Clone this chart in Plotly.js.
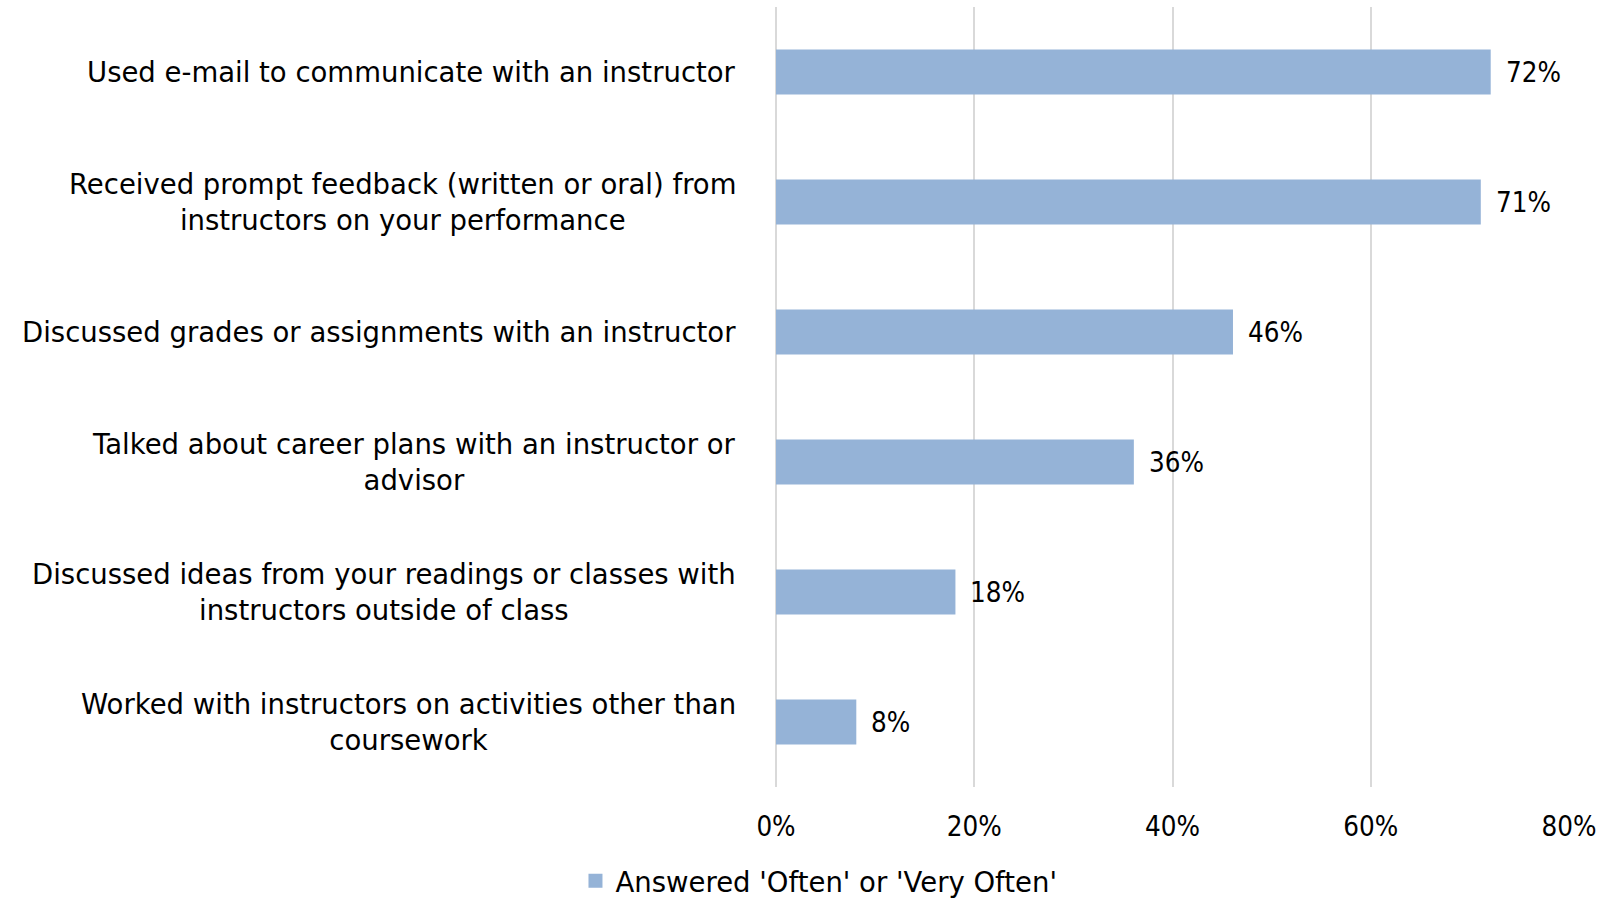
<!DOCTYPE html>
<html>
<head>
<meta charset="utf-8">
<script src="https://cdn.plot.ly/plotly-3.0.1.min.js"></script>
<style>
html,body{margin:0;padding:0;background:#fff;}
#chart{width:1612px;height:898px;}
</style>
</head>
<body>
<div id="chart"></div>
<script>
const categories = [
  "Used e-mail to communicate with an instructor",
  "Received prompt feedback (written or oral) from<br>instructors on your performance",
  "Discussed grades or assignments with an instructor",
  "Talked about career plans with an instructor or<br>advisor",
  "Discussed ideas from your readings or classes with<br>instructors outside of class",
  "Worked with instructors on activities other than<br>coursework"
];
const values = [0.72, 0.71, 0.46, 0.36, 0.18, 0.08];
const valueLabels = ["72%", "71%", "46%", "36%", "18%", "8%"];
const seriesName = "Answered 'Often' or 'Very Often'";
const xTicks = [0, 0.2, 0.4, 0.6, 0.8];
const xTickLabels = ["0%", "20%", "40%", "60%", "80%"];

const NUMFONT = "'DejaVu Sans Condensed', 'Liberation Sans Narrow', sans-serif";
const TXTFONT = "'DejaVu Sans', sans-serif";

const catKeys = categories.map((c, i) => "c" + i);

const trace = {
  type: "bar",
  orientation: "h",
  x: values,
  y: catKeys,
  name: seriesName,
  marker: {color: "#95b3d7", line: {width: 2, color: "#95b3d7"}},
  hoverinfo: "skip"
};

const annotations = [];
categories.forEach((c, i) => {
  annotations.push({
    xref: "paper", yref: "y", x: 0, y: catKeys[i],
    xanchor: "right", yanchor: "middle", xshift: -38,
    text: c, align: "center", showarrow: false,
    font: {family: TXTFONT, size: 27.5, color: "#000"}
  });
  annotations.push({
    xref: "x", yref: "y", x: values[i], y: catKeys[i],
    xanchor: "left", yanchor: "middle", xshift: 14,
    text: valueLabels[i], showarrow: false,
    font: {family: NUMFONT, size: 27.5, color: "#000"}
  });
});

const layout = {
  width: 1612, height: 898,
  margin: {l: 776, r: 43, t: 7, b: 111, pad: 0},
  paper_bgcolor: "#fff", plot_bgcolor: "#fff",
  font: {family: NUMFONT, size: 28, color: "#000"},
  bargap: 0.668,
  showlegend: true,
  legend: {
    orientation: "h", xref: "container", yref: "container",
    x: 0.357, y: 0.019, xanchor: "left", yanchor: "middle",
    font: {family: TXTFONT, size: 27.5, color: "#000"},
    bgcolor: "rgba(0,0,0,0)"
  },
  xaxis: {
    range: [0, 0.8], tickvals: xTicks, ticktext: xTickLabels,
    showgrid: true, gridcolor: "#d9d9d9", gridwidth: 2,
    zeroline: true, zerolinecolor: "#d9d9d9", zerolinewidth: 2,
    showline: false, ticks: "",
    ticklabelstandoff: 20,
    tickfont: {family: NUMFONT, size: 27.5, color: "#000"},
    fixedrange: true
  },
  yaxis: {
    type: "category", categoryarray: catKeys, autorange: "reversed",
    showticklabels: false, showgrid: false, zeroline: false, showline: false, ticks: "",
    fixedrange: true
  },
  annotations: annotations
};

Plotly.newPlot("chart", [trace], layout, {displayModeBar: false, staticPlot: true});
</script>
</body>
</html>
